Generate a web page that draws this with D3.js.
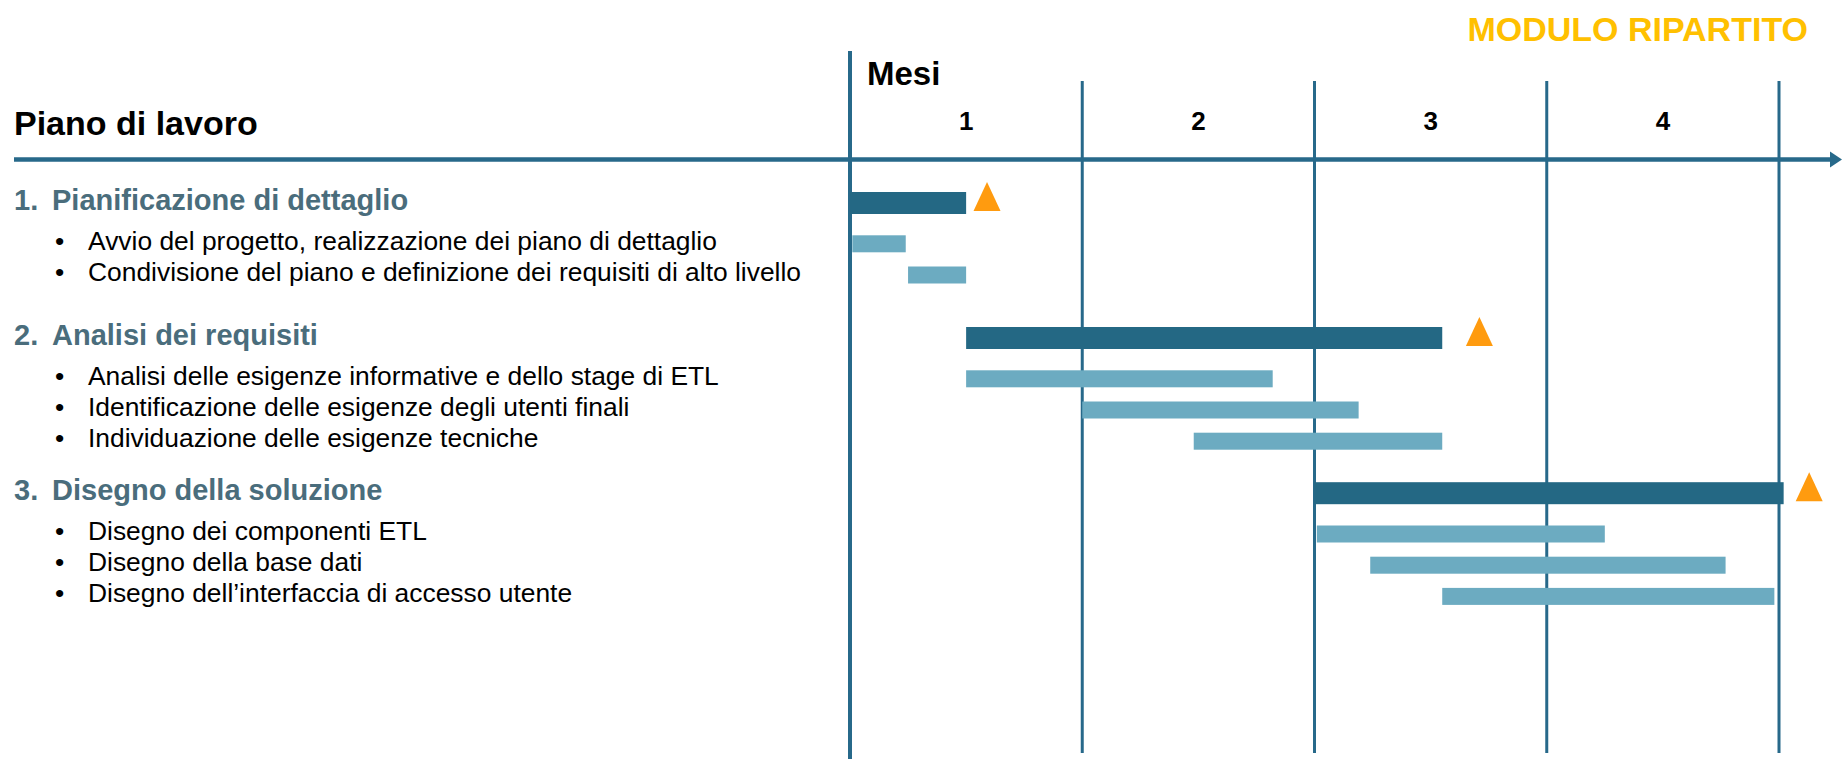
<!DOCTYPE html>
<html>
<head>
<meta charset="utf-8">
<script src="https://cdn.jsdelivr.net/npm/d3@7"></script>
<style>
  body { margin: 0; background: #fff; }
  svg { display: block; font-family: "Liberation Sans", Arial, sans-serif; }
</style>
</head>
<body>
<svg id="chart"></svg>
<script>
// months on the time axis
const months = ["1", "2", "3", "4"];

// phases (bold headings, dark bars, milestone triangles)
const phases = ["Pianificazione di dettaglio", "Analisi dei requisiti", "Disegno della soluzione"];
const phaseStart = [0, 0.5, 2.0];
const phaseEnd = [0.5, 2.55, 4.02];
const milestones = [0.59, 2.71, 4.13];

// activities (bullets, light bars)
const tasks = [
  "Avvio del progetto, realizzazione dei piano di dettaglio",
  "Condivisione del piano e definizione dei requisiti di alto livello",
  "Analisi delle esigenze informative e dello stage di ETL",
  "Identificazione delle esigenze degli utenti finali",
  "Individuazione delle esigenze tecniche",
  "Disegno dei componenti ETL",
  "Disegno della base dati",
  "Disegno dell\u2019interfaccia di accesso utente"
];
const taskPhase = [0, 0, 1, 1, 1, 2, 2, 2];
const taskStart = [0.01, 0.25, 0.5, 1.0, 1.48, 2.01, 2.24, 2.55];
const taskEnd = [0.24, 0.5, 1.82, 2.19, 2.55, 3.25, 3.77, 3.98];

const width = 1842;
const height = 759;
const lineColor = "#27698A";
const darkBar = "#246884";
const lightBar = "#6CABC1";
const headColor = "#4A6D7C";
const orange = "#FF9B0F";

// vertical layout: first row, heading->task, task step, space before each group
const firstRow = 203;
const headStep = 40.8;
const taskStep = 31.2;
const groupGap = [0, 63, 52];

const svg = d3.select("#chart").attr("width", width).attr("height", height);

// time scale: month 0..4
const x = d3.scaleLinear().domain([0, months.length]).range([850, 1779]);

// build rows (heading then its tasks) with a running y cursor
const rows = [];
let cursor = firstRow;
phases.forEach((p, i) => {
  cursor += groupGap[i];
  rows.push({ type: "phase", idx: i, label: p, start: phaseStart[i], end: phaseEnd[i], ms: milestones[i], y: cursor });
  cursor += headStep;
  tasks.forEach((t, j) => {
    if (taskPhase[j] !== i) return;
    rows.push({ type: "task", idx: j, label: t, start: taskStart[j], end: taskEnd[j], y: cursor });
    cursor += taskStep;
  });
  cursor -= taskStep;
});

// top texts
svg.append("text")
  .attr("x", width - 34).attr("y", 41)
  .attr("text-anchor", "end")
  .attr("fill", "#FFC000")
  .style("font-size", "34px").style("font-weight", "bold")
  .text("MODULO RIPARTITO");

svg.append("text")
  .attr("x", 14).attr("y", 135)
  .style("font-size", "34px").style("font-weight", "bold")
  .text("Piano di lavoro");

svg.append("text")
  .attr("x", 867).attr("y", 85)
  .style("font-size", "33px").style("font-weight", "bold")
  .text("Mesi");

// month grid lines
svg.selectAll("line.grid")
  .data(months)
  .enter()
  .append("line")
  .attr("class", "grid")
  .attr("x1", (d, i) => x(i + 1)).attr("x2", (d, i) => x(i + 1))
  .attr("y1", 81).attr("y2", 753)
  .attr("stroke", lineColor)
  .attr("stroke-width", 3);

// month labels centred in each month
svg.selectAll("text.month")
  .data(months)
  .enter()
  .append("text")
  .attr("class", "month")
  .attr("x", (d, i) => x(i + 0.5)).attr("y", 130)
  .attr("text-anchor", "middle")
  .style("font-size", "26px").style("font-weight", "bold")
  .text((d) => d);

// horizontal arrow line
svg.append("line")
  .attr("x1", 14).attr("x2", width - 10)
  .attr("y1", 159.5).attr("y2", 159.5)
  .attr("stroke", lineColor)
  .attr("stroke-width", 4.5);
svg.append("path")
  .attr("d", `M${width - 12},151.5 L${width},159.5 L${width - 12},167.5 Z`)
  .attr("fill", lineColor);

// vertical axis
svg.append("line")
  .attr("x1", x(0)).attr("x2", x(0))
  .attr("y1", 51).attr("y2", height)
  .attr("stroke", lineColor)
  .attr("stroke-width", 4);

// bars
svg.selectAll("rect.bar")
  .data(rows)
  .enter()
  .append("rect")
  .attr("class", "bar")
  .attr("x", (d) => x(d.start))
  .attr("width", (d) => x(d.end) - x(d.start))
  .attr("y", (d) => (d.type === "phase" ? d.y - 11 : d.y - 8.5))
  .attr("height", (d) => (d.type === "phase" ? 22 : 17))
  .attr("fill", (d) => (d.type === "phase" ? darkBar : lightBar));

// milestones
svg.selectAll("path.ms")
  .data(rows.filter((d) => d.type === "phase"))
  .enter()
  .append("path")
  .attr("class", "ms")
  .attr("d", (d) => {
    const cx = x(d.ms);
    const base = d.y + 8;
    return `M${cx - 13.5},${base} L${cx + 13.5},${base} L${cx},${base - 29} Z`;
  })
  .attr("fill", orange);

// left-hand texts
const phaseRows = rows.filter((d) => d.type === "phase");
const taskRows = rows.filter((d) => d.type === "task");

svg.selectAll("text.num")
  .data(phaseRows)
  .enter()
  .append("text")
  .attr("class", "num")
  .attr("x", 14).attr("y", (d) => d.y - 3.3 + 10.4)
  .attr("fill", headColor)
  .style("font-size", "29px").style("font-weight", "bold")
  .text((d) => `${d.idx + 1}.`);

svg.selectAll("text.phase")
  .data(phaseRows)
  .enter()
  .append("text")
  .attr("class", "phase")
  .attr("x", 52).attr("y", (d) => d.y - 3.3 + 10.4)
  .attr("fill", headColor)
  .style("font-size", "29px").style("font-weight", "bold")
  .text((d) => d.label);

svg.selectAll("text.bullet")
  .data(taskRows)
  .enter()
  .append("text")
  .attr("class", "bullet")
  .attr("x", 55).attr("y", (d) => d.y - 3.5 + 9.4)
  .style("font-size", "26.4px")
  .text("\u2022");

svg.selectAll("text.task")
  .data(taskRows)
  .enter()
  .append("text")
  .attr("class", "task")
  .attr("x", 88).attr("y", (d) => d.y - 3.5 + 9.4)
  .style("font-size", "26.4px")
  .text((d) => d.label);
</script>
</body>
</html>
